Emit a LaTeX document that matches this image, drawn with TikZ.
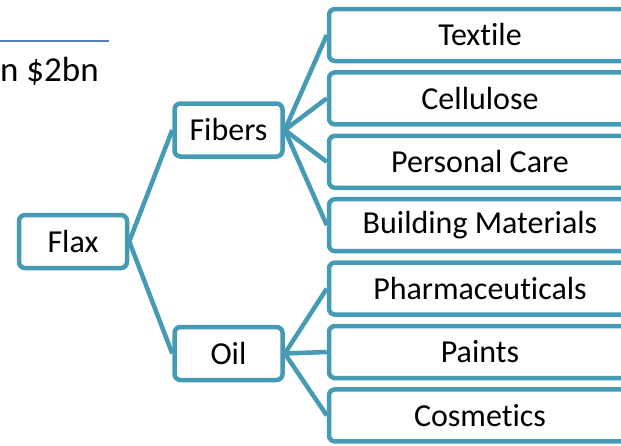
\documentclass[tikz,border=0pt]{standalone}
\usepackage{fontspec}
\setmainfont[Ligatures=NoCommon]{Carlito}
\definecolor{teal}{RGB}{70,155,180}
\definecolor{rule}{RGB}{79,129,189}
\begin{document}
\begin{tikzpicture}[x={(1pt,0)}, y={(0,-1pt)},
  box/.style={draw=teal, line width=4.5pt, rounded corners=6pt, fill=white,
    inner sep=0pt, font=\fontsize{32}{36}\selectfont},
  small/.style={box, minimum width=108pt, minimum height=53pt},
  wide/.style={box, minimum width=302pt, minimum height=52pt},
  link/.style={draw=teal, line width=4.5pt}]
\useasboundingbox (0,0) rectangle (621,445);
\clip (0,0) rectangle (621,445);

% heading fragment and rule
\draw[rule, line width=1.5pt] (0,41) -- (109,41);
\node[anchor=base west, inner sep=0pt, font=\fontsize{35}{40}\selectfont] (head) at (0,81) {n \$2bn};

% tree nodes
\node[small] (flax)   at (73,241.5)  {Flax};
\node[small] (fibers) at (228.5,130) {Fibers};
\node[small] (oil)    at (228.5,353.5) {Oil};

\node[wide] (textile) at (480,35)    {Textile};
\node[wide] (cell)    at (480,98.4)  {Cellulose};
\node[wide] (care)    at (480,161.8) {Personal Care};
\node[wide] (build)   at (480,225.2) {Building Materials};
\node[wide] (pharma)  at (480,288.6) {Pharmaceuticals};
\node[wide] (paints)  at (480,352)   {Paints};
\node[wide] (cosm)    at (480,415.4) {Cosmetics};

% connectors
\path[link] (flax.east) -- (fibers.west) (flax.east) -- (oil.west);
\foreach \t in {textile,cell,care,build}
  \path[link] (fibers.east) -- (\t.west);
\foreach \t in {pharma,paints,cosm}
  \path[link] (oil.east) -- (\t.west);
\end{tikzpicture}
\end{document}
